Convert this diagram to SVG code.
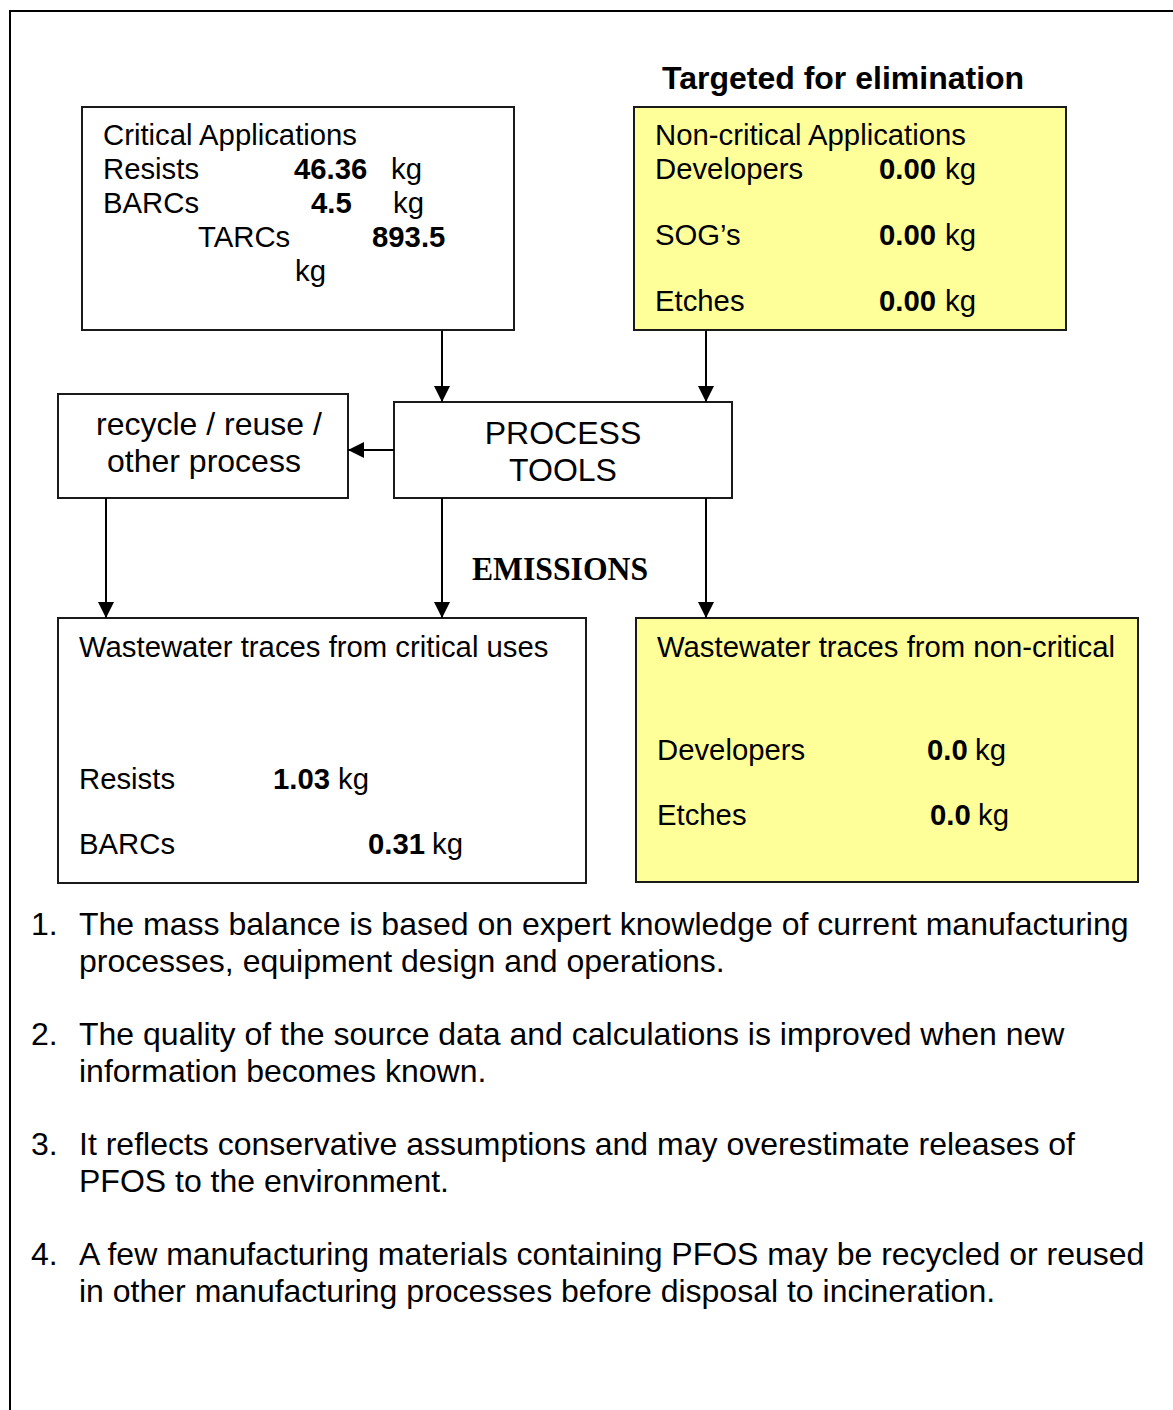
<svg xmlns="http://www.w3.org/2000/svg" width="1173" height="1410" viewBox="0 0 1173 1410">
<defs>
<marker id="ah" markerUnits="userSpaceOnUse" markerWidth="16" markerHeight="18" viewBox="0 0 16 18" refX="16" refY="9" orient="auto">
<path d="M0,1 L16,9 L0,17 Z" fill="#000"/>
</marker>
<style>
.box{fill:#fff;stroke:#1a1a1a;stroke-width:2}
.yel{fill:#ffff99;stroke:#1a1a1a;stroke-width:2}
.t{font-family:"Liberation Sans",Arial,sans-serif;font-size:29.3px;fill:#000}
.b{font-weight:bold}
.t32{font-family:"Liberation Sans",Arial,sans-serif;font-size:32px;fill:#000}
.em{font-family:"Liberation Serif","Times New Roman",serif;font-size:33px;font-weight:bold;fill:#000}
.con{stroke:#000;stroke-width:2;fill:none;marker-end:url(#ah)}
</style>
</defs>
<rect x="10" y="11" width="1200" height="1450" fill="#fff" stroke="#000" stroke-width="2"/>

<text class="t32 b" x="662" y="89">Targeted for elimination</text>

<g id="critical">
<rect class="box" x="82" y="107" width="432" height="223"/>
<text class="t" x="103" y="145">Critical Applications</text>
<text class="t" x="103" y="179">Resists</text>
<text class="t b" x="294" y="179">46.36</text>
<text class="t" x="391" y="179">kg</text>
<text class="t" x="103" y="213">BARCs</text>
<text class="t b" x="311" y="213">4.5</text>
<text class="t" x="393" y="213">kg</text>
<text class="t" x="198" y="247">TARCs</text>
<text class="t b" x="372" y="247">893.5</text>
<text class="t" x="295" y="281">kg</text>
</g>

<g id="noncritical">
<rect class="yel" x="634" y="107" width="432" height="223"/>
<text class="t" x="655" y="145">Non-critical Applications</text>
<text class="t" x="655" y="179">Developers</text>
<text class="t b" x="879" y="179">0.00</text>
<text class="t" x="945" y="179">kg</text>
<text class="t" x="655" y="245">SOG’s</text>
<text class="t b" x="879" y="245">0.00</text>
<text class="t" x="945" y="245">kg</text>
<text class="t" x="655" y="311">Etches</text>
<text class="t b" x="879" y="311">0.00</text>
<text class="t" x="945" y="311">kg</text>
</g>

<g id="recycle">
<rect class="box" x="58" y="394" width="290" height="104"/>
<text class="t32" x="96" y="435">recycle / reuse /</text>
<text class="t32" x="107" y="472">other process</text>
</g>

<g id="process">
<rect class="box" x="394" y="402" width="338" height="96"/>
<text class="t32" x="563" y="444" text-anchor="middle">PROCESS</text>
<text class="t32" x="563" y="481" text-anchor="middle">TOOLS</text>
</g>

<text class="em" x="472" y="580" textLength="176" lengthAdjust="spacingAndGlyphs">EMISSIONS</text>

<g id="ww-critical">
<rect class="box" x="58" y="618" width="528" height="265"/>
<text class="t" x="79" y="657">Wastewater traces from critical uses</text>
<text class="t" x="79" y="789">Resists</text>
<text class="t b" x="273" y="789">1.03</text>
<text class="t" x="338" y="789">kg</text>
<text class="t" x="79" y="854">BARCs</text>
<text class="t b" x="368" y="854">0.31</text>
<text class="t" x="432" y="854">kg</text>
</g>

<g id="ww-noncritical">
<rect class="yel" x="636" y="618" width="502" height="264"/>
<text class="t" x="657" y="657">Wastewater traces from non-critical</text>
<text class="t" x="657" y="760">Developers</text>
<text class="t b" x="927" y="760">0.0</text>
<text class="t" x="975" y="760">kg</text>
<text class="t" x="657" y="825">Etches</text>
<text class="t b" x="930" y="825">0.0</text>
<text class="t" x="978" y="825">kg</text>
</g>

<g id="connectors">
<line class="con" x1="442" y1="331" x2="442" y2="402"/>
<line class="con" x1="706" y1="331" x2="706" y2="402"/>
<line class="con" x1="394" y1="450" x2="348" y2="450"/>
<line class="con" x1="106" y1="498" x2="106" y2="618"/>
<line class="con" x1="442" y1="498" x2="442" y2="618"/>
<line class="con" x1="706" y1="498" x2="706" y2="618"/>
</g>

<g id="notes" class="t32">
<text x="31" y="935">1.</text>
<text x="79" y="935">The mass balance is based on expert knowledge of current manufacturing</text>
<text x="79" y="972">processes, equipment design and operations.</text>
<text x="31" y="1045">2.</text>
<text x="79" y="1045">The quality of the source data and calculations is improved when new</text>
<text x="79" y="1082">information becomes known.</text>
<text x="31" y="1155">3.</text>
<text x="79" y="1155">It reflects conservative assumptions and may overestimate releases of</text>
<text x="79" y="1192">PFOS to the environment.</text>
<text x="31" y="1265">4.</text>
<text x="79" y="1265">A few manufacturing materials containing PFOS may be recycled or reused</text>
<text x="79" y="1302">in other manufacturing processes before disposal to incineration.</text>
</g>
</svg>
